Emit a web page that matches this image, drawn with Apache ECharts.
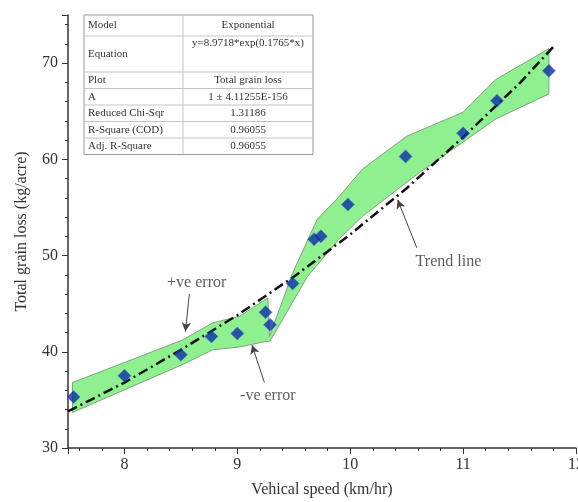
<!DOCTYPE html>
<html>
<head>
<meta charset="utf-8">
<script src="https://cdn.jsdelivr.net/npm/echarts@6/dist/echarts.min.js"></script>
<style>
html, body { margin: 0; padding: 0; background: #fff; }
#main { width: 578px; height: 502px; }
</style>
</head>
<body>
<div id="main"></div>
<script>
// measured points
var speed = [7.55, 8.0, 8.5, 8.77, 9.0, 9.25, 9.29, 9.49, 9.68, 9.74, 9.98, 10.49, 11.0, 11.3, 11.76];
var grainLoss = [35.3, 37.5, 39.7, 41.6, 41.9, 44.1, 42.8, 47.1, 51.7, 52.0, 55.3, 60.3, 62.7, 66.1, 69.2];

// trend line
var trendX = [7.5, 8.0, 8.5, 9.0, 9.5, 10.0, 10.5, 11.0, 11.5, 11.8];
var trendY = [33.8, 36.8, 40.2, 43.8, 47.8, 52.2, 57.0, 62.3, 67.9, 71.7];

// error band edges
var bandUpper = [[7.54, 36.8], [8.51, 41.2], [8.78, 43.0], [9.02, 43.7], [9.27, 45.6], [9.285, 41.6],
  [9.49, 48.2], [9.65, 52.3], [9.71, 53.8], [9.9, 56.1], [10.11, 59.0], [10.5, 62.4],
  [11.0, 64.9], [11.29, 68.3], [11.76, 71.5]];
var bandLower = [[7.54, 33.7], [8.52, 38.7], [8.78, 40.2], [9.02, 40.5], [9.22, 41.0], [9.29, 41.1],
  [9.62, 47.8], [9.9, 51.7], [10.11, 54.1], [10.61, 58.6], [11.0, 61.8], [11.29, 64.2], [11.76, 66.8]];

var tableLabels = ['Model', 'Equation', 'Plot', 'A', 'Reduced Chi-Sqr', 'R-Square (COD)', 'Adj. R-Square'];
var tableValues = ['Exponential', 'y=8.9718*exp(0.1765*x)', 'Total grain loss', '1 \u00b1 4.11255E-156', '1.31186', '0.96055', '0.96055'];

var notes = [
  { text: '+ve error', at: [8.64, 47.2], from: [8.575, 46.0], to: [8.54, 42.1] },
  { text: '-ve error', at: [9.27, 35.4], from: [9.24, 36.8], to: [9.13, 40.7] },
  { text: 'Trend line', at: [10.87, 49.3], from: [10.59, 50.8], to: [10.42, 55.8] }
];

var serif = '"Liberation Serif", "Times New Roman", serif';
var myChart = echarts.init(document.getElementById('main'));

var points = speed.map(function (x, i) { return [x, grainLoss[i]]; });
var trend = trendX.map(function (x, i) { return [x, trendY[i]]; });

// table graphic
var tx0 = 84, tx1 = 183, tx2 = 313;
var rowY = [15, 36, 72, 88.5, 105, 121.5, 138, 154.5];
var tableGraphic = [{
  type: 'rect', z: 100,
  shape: { x: tx0, y: rowY[0], width: tx2 - tx0, height: rowY[rowY.length - 1] - rowY[0] },
  style: { fill: '#fff', stroke: '#9a9a9a', lineWidth: 1 }
}, {
  type: 'line', z: 101,
  shape: { x1: tx1, y1: rowY[0], x2: tx1, y2: rowY[rowY.length - 1] },
  style: { stroke: '#c4c4c4', lineWidth: 1 }
}];
for (var r = 1; r < rowY.length - 1; r++) {
  tableGraphic.push({
    type: 'line', z: 101,
    shape: { x1: tx0, y1: rowY[r], x2: tx2, y2: rowY[r] },
    style: { stroke: '#c4c4c4', lineWidth: 1 }
  });
}
for (var k = 0; k < tableLabels.length; k++) {
  var mid = (rowY[k] + rowY[k + 1]) / 2;
  tableGraphic.push({
    type: 'text', z: 102, x: tx0 + 4, y: mid,
    style: { text: tableLabels[k], font: '11px ' + serif, fill: '#333', verticalAlign: 'middle', align: 'left' }
  });
  tableGraphic.push({
    type: 'text', z: 102, x: (tx1 + tx2) / 2, y: k === 1 ? rowY[k] + 7 : mid,
    style: { text: tableValues[k], font: '11px ' + serif, fill: '#333', verticalAlign: 'middle', align: 'center' }
  });
}

option = {
  backgroundColor: '#fff',
  animation: false,
  grid: { left: 68, right: 2, top: 15, bottom: 54, outerBoundsMode: 'none' },
  xAxis: {
    type: 'value',
    min: 7.5,
    max: 12,
    splitNumber: 5,
    name: 'Vehical speed (km/hr)',
    nameLocation: 'middle',
    nameGap: 34,
    nameTextStyle: { fontFamily: serif, fontSize: 16, color: '#333' },
    axisLine: { lineStyle: { color: '#333', width: 1.5 } },
    axisTick: { length: 6, lineStyle: { color: '#333' } },
    minorTick: { show: true, splitNumber: 5, length: 3, lineStyle: { color: '#333' } },
    axisLabel: { showMinLabel: false, margin: 9, fontFamily: serif, fontSize: 16, color: '#333' },
    splitLine: { show: false }
  },
  yAxis: {
    type: 'value',
    min: 30,
    max: 75,
    interval: 10,
    name: 'Total grain loss (kg/acre)',
    nameLocation: 'middle',
    nameGap: 38,
    nameTextStyle: { fontFamily: serif, fontSize: 16, color: '#333' },
    axisLine: { show: true, lineStyle: { color: '#333', width: 1.5 } },
    axisTick: { show: true, length: 6, lineStyle: { color: '#333' } },
    minorTick: { show: true, splitNumber: 5, length: 3, lineStyle: { color: '#333' } },
    axisLabel: { showMaxLabel: false, margin: 10, fontFamily: serif, fontSize: 16, color: '#333' },
    splitLine: { show: false }
  },
  series: [
    {
      type: 'custom',
      silent: true,
      z: 1,
      data: [[9, 50]],
      renderItem: function (params, api) {
        var pts = [];
        bandUpper.forEach(function (p) { pts.push(api.coord(p)); });
        bandLower.slice().reverse().forEach(function (p) { pts.push(api.coord(p)); });
        return {
          type: 'polygon',
          shape: { points: pts },
          style: { fill: '#8ef08e', stroke: '#7fa27f', lineWidth: 1 }
        };
      }
    },
    {
      name: 'Trend',
      type: 'line',
      z: 3,
      silent: true,
      showSymbol: false,
      data: trend,
      lineStyle: { color: '#111', width: 2.5, type: [10, 4, 2, 4] },
      markLine: {
        silent: true,
        symbol: ['none', 'arrow'],
        symbolSize: [7, 9],
        label: { show: false },
        lineStyle: { color: '#444', width: 1, type: 'solid' },
        data: notes.map(function (n) { return [{ coord: n.from }, { coord: n.to }]; })
      }
    },
    {
      type: 'scatter',
      z: 4,
      symbol: 'diamond',
      symbolSize: 13,
      itemStyle: { color: '#0b2ea6', borderColor: '#3a66d8', borderWidth: 0.5 },
      data: points
    },
    {
      type: 'scatter',
      z: 5,
      silent: true,
      symbolSize: 1,
      itemStyle: { color: 'rgba(0,0,0,0)' },
      label: {
        show: true,
        position: 'inside',
        fontFamily: serif,
        fontSize: 16,
        color: '#333',
        formatter: function (p) { return p.data[2]; }
      },
      data: notes.map(function (n) { return [n.at[0], n.at[1], n.text]; })
    }
  ],
  graphic: tableGraphic
};

myChart.setOption(option);
</script>
</body>
</html>
